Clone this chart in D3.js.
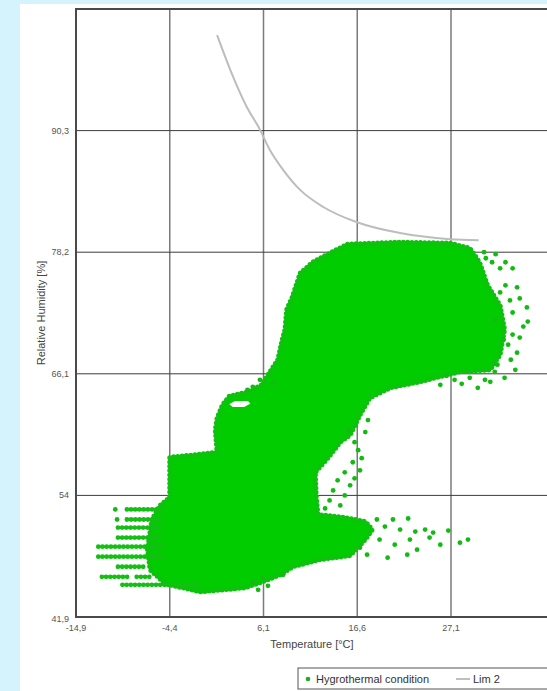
<!DOCTYPE html>
<html>
<head>
<meta charset="utf-8">
<script src="https://cdn.jsdelivr.net/npm/d3@7"></script>
<style>
  html, body { margin: 0; padding: 0; background: #d5f3fd; overflow: hidden; }
  svg { display: block; font-family: "Liberation Sans", Arial, sans-serif; }
</style>
</head>
<body>
<div id="chart"></div>
<script>
// tick values / labels
var xTicks = [-14.9, -4.4, 6.1, 16.6, 27.1];
var yTicks = [41.9, 54, 66.1, 78.2, 90.3];

// Lim 2 curve [temperature, RH]
var limX = [0.9, 2.4, 4.2, 5.7, 6.8, 8.3, 10.2, 12.8, 16.5, 21.4, 27.0, 30.2];
var limY = [99.8, 96.3, 92.7, 90.4, 88.4, 86.4, 84.4, 82.7, 81.2, 80.1, 79.5, 79.4];

// outline of the dense part of the hygrothermal cloud [temperature, RH]
var cloudOutline = [
  [15.5, 79.0], [21.4, 79.2], [27.0, 79.1], [29.2, 78.6], [30.3, 77.2], [31.2, 74.9],
  [32.6, 72.9], [33.1, 70.5], [32.6, 68.0], [31.5, 66.5], [28.1, 66.3], [23.6, 65.3],
  [20.3, 64.7], [18.0, 63.7], [16.9, 62.0], [15.8, 60.0], [14.7, 59.3], [13.3, 57.7],
  [11.9, 56.3], [12.0, 54.0], [12.2, 52.1], [15.2, 51.8], [17.5, 51.4], [18.3, 50.6],
  [17.5, 49.6], [15.8, 48.0], [12.4, 47.6], [9.4, 46.9], [8.0, 46.1], [5.7, 45.3],
  [4.0, 44.8], [-1.0, 44.4], [-4.9, 45.2], [-6.6, 46.6], [-6.9, 48.6], [-6.4, 51.6],
  [-5.5, 53.0], [-4.4, 53.8], [-4.4, 57.8], [-2.1, 58.0], [0.9, 58.3], [0.7, 60.5],
  [0.9, 61.7], [1.5, 63.0], [2.3, 63.9], [4.4, 64.3], [5.9, 65.0], [6.6, 66.0],
  [7.7, 67.5], [8.2, 69.5], [8.5, 70.5], [8.7, 72.5], [9.3, 73.7], [10.2, 76.1],
  [11.6, 77.2], [13.5, 78.1]
];
var cloudHole = [[2.1, 63.1], [2.9, 63.5], [4.4, 63.5], [4.8, 63.1], [4.0, 62.7], [2.6, 62.7]];

// rows of dots at the cold, dry end [tStart, tEnd, RH]
var streaks = [
  [-9.2, -5.2, 52.6], [-9.2, -5.2, 51.6], [-10.2, -5.2, 50.8], [-10.2, -5.2, 49.8],
  [-12.4, -5.2, 48.9], [-12.4, -5.2, 47.9], [-10.2, -7.0, 46.9], [-12.0, -8.9, 45.9],
  [-8.1, -6.6, 45.9], [-9.7, -1.0, 45.1]
];

// loose single readings [temperature, RH]
var looseDots = [
  [-10.5, 52.6], [-10.3, 51.6],
  [33.2, 77.2], [34.0, 76.6], [32.1, 78.0], [30.8, 78.2], [31.7, 77.2], [34.5, 74.7],
  [33.7, 73.4], [34.8, 73.6], [35.6, 72.7], [35.2, 70.8], [35.7, 71.3], [34.5, 68.2],
  [33.5, 69.0], [34.0, 70.0], [34.3, 66.5], [33.1, 65.7], [32.0, 66.3], [30.9, 65.5],
  [29.2, 65.7], [27.5, 65.5], [25.9, 65.0], [30.1, 64.7], [32.6, 74.2], [32.0, 71.5],
  [31.0, 77.6], [32.6, 76.6], [33.2, 74.9], [34.0, 72.2], [33.0, 69.5], [33.8, 67.5],
  [32.3, 67.0], [34.8, 69.7], [31.5, 65.3], [28.3, 65.1], [26.6, 65.9],
  [16.3, 59.3], [16.7, 58.5], [17.1, 57.7], [16.9, 56.5], [16.3, 55.7], [15.8, 55.0],
  [15.2, 54.0], [14.7, 53.0], [17.5, 60.3], [17.8, 61.5],
  [15.6, 60.5], [16.1, 57.3], [15.2, 56.3], [14.4, 55.5], [13.9, 54.5], [13.5, 53.5],
  [13.0, 52.7],
  [18.8, 51.6], [20.6, 51.6], [22.3, 51.7], [19.7, 50.9], [21.4, 50.6], [23.1, 50.4],
  [24.2, 50.6], [25.1, 50.3], [25.9, 49.1], [28.1, 49.3], [29.0, 49.6], [23.3, 48.6],
  [22.2, 48.1], [20.0, 47.8], [17.7, 48.1], [20.8, 49.1], [22.5, 49.6], [19.1, 49.6],
  [16.9, 48.8], [24.7, 49.8], [26.8, 50.5],
  [4.9, 45.4], [6.0, 45.8], [8.3, 46.1], [6.6, 45.0], [5.5, 44.6],
  [4.3, 64.5], [4.9, 64.8], [5.7, 65.5], [7.2, 65.2]
];

var W = 547, H = 691;
var margin = {top: 9, left: 76, bottom: 74};
var plotRight = 566;   // plot runs past the window edge

var x = d3.scaleLinear()
    .domain([-14.9, -14.9 + (plotRight - margin.left) / (93.75 / 10.5)])
    .range([margin.left, plotRight]);
var y = d3.scaleLinear()
    .domain([41.9, 102.4])
    .range([H - margin.bottom, margin.top]);

var fmt = function(v) { return String(v).replace(".", ","); };
var green = "#00cc00";

var svg = d3.select("#chart").append("svg")
    .attr("width", W)
    .attr("height", H);

// white panel
svg.append("rect")
    .attr("x", 20).attr("y", 4)
    .attr("width", W - 20).attr("height", H - 4)
    .attr("fill", "#fff");

// grid
svg.append("g").selectAll("line")
    .data(xTicks.slice(1))
    .enter().append("line")
    .attr("x1", function(d) { return x(d); })
    .attr("x2", function(d) { return x(d); })
    .attr("y1", y(102.4)).attr("y2", y(41.9))
    .attr("stroke", "#7a7a7a")
    .attr("stroke-width", 1.5);

svg.append("g").selectAll("line")
    .data(yTicks.slice(1))
    .enter().append("line")
    .attr("x1", x(-14.9)).attr("x2", plotRight)
    .attr("y1", function(d) { return y(d); })
    .attr("y2", function(d) { return y(d); })
    .attr("stroke", "#3c3c3c")
    .attr("stroke-width", 1);

// dense cloud
var ring = function(pts) {
    return "M" + pts.map(function(p) { return x(p[0]) + "," + y(p[1]); }).join("L") + "Z";
};
svg.append("path")
    .attr("d", ring(cloudOutline) + ring(cloudHole))
    .attr("fill-rule", "evenodd")
    .attr("fill", green)
    .attr("stroke", green)
    .attr("stroke-width", 2)
    .attr("stroke-linejoin", "round");

// beaded rim so the edge reads as dots
svg.append("path")
    .attr("d", ring(cloudOutline))
    .attr("fill", "none")
    .attr("stroke", "#0cc20c")
    .attr("stroke-width", 5)
    .attr("stroke-linecap", "round")
    .attr("stroke-dasharray", "0 4.3");

svg.append("g").selectAll("line")
    .data(streaks)
    .enter().append("line")
    .attr("x1", function(d) { return x(d[0]); })
    .attr("x2", function(d) { return x(d[1]); })
    .attr("y1", function(d) { return y(d[2]); })
    .attr("y2", function(d) { return y(d[2]); })
    .attr("stroke", "#12bf12")
    .attr("stroke-width", 4.8)
    .attr("stroke-linecap", "round")
    .attr("stroke-dasharray", "0 4.2");

svg.append("g").selectAll("circle")
    .data(looseDots)
    .enter().append("circle")
    .attr("cx", function(d) { return x(d[0]); })
    .attr("cy", function(d) { return y(d[1]); })
    .attr("r", 2.4)
    .attr("fill", "#14ba14");

// Lim 2
var line = d3.line()
    .curve(d3.curveMonotoneX)
    .x(function(d, i) { return x(limX[i]); })
    .y(function(d, i) { return y(limY[i]); });
svg.append("path")
    .attr("d", line(limX))
    .attr("fill", "none")
    .attr("stroke", "#bdbdbd")
    .attr("stroke-width", 2);

// plot frame (left, top, bottom)
svg.append("path")
    .attr("d", "M" + plotRight + "," + y(102.4) + "H" + x(-14.9) + "V" + y(41.9) + "H" + plotRight)
    .attr("fill", "none")
    .attr("stroke", "#4a4a4a")
    .attr("stroke-width", 2);

// tick labels
svg.append("g").selectAll("text")
    .data(xTicks)
    .enter().append("text")
    .attr("x", function(d) { return x(d); })
    .attr("y", y(41.9) + 14)
    .attr("text-anchor", "middle")
    .attr("font-size", 9)
    .attr("fill", "#555")
    .text(fmt);

svg.append("g").selectAll("text")
    .data(yTicks)
    .enter().append("text")
    .attr("x", x(-14.9) - 7)
    .attr("y", function(d, i) { return y(d) + (i == 0 ? 5 : 3); })
    .attr("text-anchor", "end")
    .attr("font-size", 9)
    .attr("fill", "#555")
    .text(fmt);

// axis titles
svg.append("text")
    .attr("x", 312).attr("y", y(41.9) + 31)
    .attr("text-anchor", "middle")
    .attr("font-size", 11)
    .attr("fill", "#444")
    .text("Temperature [°C]");

svg.append("text")
    .attr("transform", "translate(45," + ((y(102.4) + y(41.9)) / 2) + ") rotate(-90)")
    .attr("text-anchor", "middle")
    .attr("font-size", 11)
    .attr("fill", "#444")
    .text("Relative Humidity [%]");

// legend
var lg = svg.append("g").attr("transform", "translate(298,668)");
lg.append("rect")
    .attr("x", 0).attr("y", 0)
    .attr("width", 270).attr("height", 21)
    .attr("fill", "#fff")
    .attr("stroke", "#555")
    .attr("stroke-width", 1);
lg.append("circle")
    .attr("cx", 10).attr("cy", 11).attr("r", 2.3)
    .attr("fill", "#22aa22");
lg.append("text")
    .attr("x", 18).attr("y", 15)
    .attr("font-size", 11).attr("fill", "#333")
    .text("Hygrothermal condition");
lg.append("line")
    .attr("x1", 158).attr("x2", 172)
    .attr("y1", 11).attr("y2", 11)
    .attr("stroke", "#aaa").attr("stroke-width", 1.5);
lg.append("text")
    .attr("x", 175).attr("y", 15)
    .attr("font-size", 11).attr("fill", "#333")
    .text("Lim 2");
</script>
</body>
</html>
